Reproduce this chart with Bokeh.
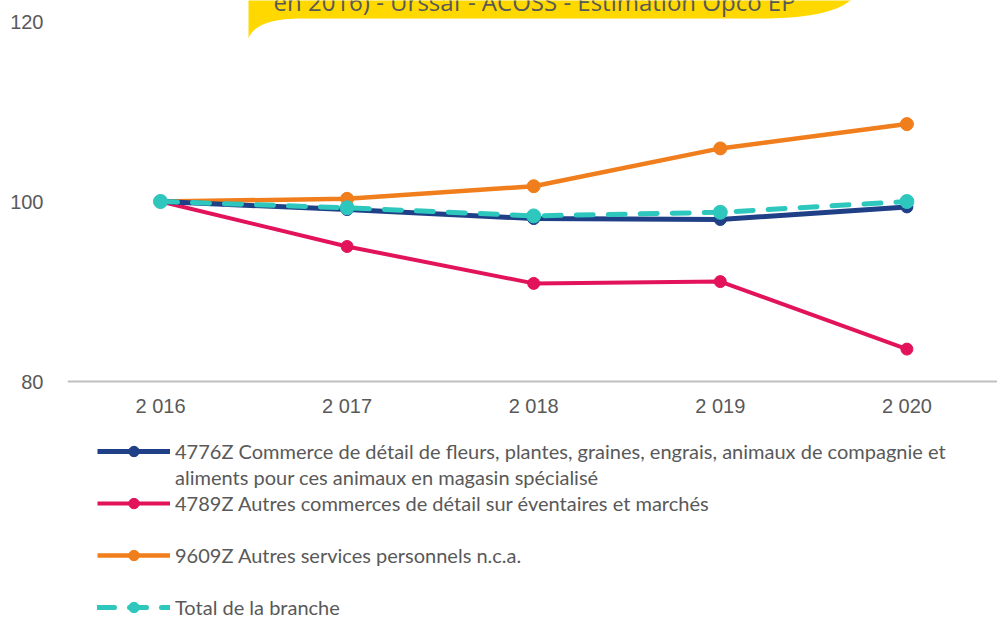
import numpy as np
from bokeh.plotting import figure
from bokeh.models import Range1d, FixedTicker, Legend, LegendItem, ColumnDataSource
from bokeh.core.properties import value
from bokeh.embed import file_html
from bokeh.resources import INLINE

# ---------------- data ----------------
years = [2016, 2017, 2018, 2019, 2020]
year_labels = ["2 016", "2 017", "2 018", "2 019", "2 020"]
y_ticks = [80, 100, 120]
y_axis_base = 80

v_4776Z = [100.0, 99.1, 98.1, 98.0, 99.4]
v_4789Z = [100.0, 95.0, 90.9, 91.1, 83.6]
v_9609Z = [100.0, 100.3, 101.7, 105.9, 108.6]
v_total = [100.0, 99.3, 98.4, 98.8, 100.0]

label_4776Z_1 = "4776Z Commerce de détail de fleurs, plantes, graines, engrais, animaux de compagnie et"
label_4776Z_2 = "aliments pour ces animaux en magasin spécialisé"
label_4789Z = "4789Z Autres commerces de détail sur éventaires et marchés"
label_9609Z = "9609Z Autres services personnels n.c.a."
label_total = "Total de la branche"
callout_text = "en 2016) - Urssaf - ACOSS - Estimation Opco EP"

# ---------------- styles ----------------
C_BLUE = "#1F3F86"
C_RED = "#E2135A"
C_ORANGE = "#F07E1C"
C_CYAN = "#2EC7BE"
C_YELLOW = "#FFD800"
C_TEXT = "#595959"

W, H = 997, 618
FRAME_L = 67                         # frame left (pixels)
X0_PX, X_STEP = 160, 186.6           # pixel of first year, pixels per year
Y100_PX, Y_STEP = 201, 9.0           # pixel of value 100, pixels per unit

x_start = years[0] - (X0_PX - FRAME_L) / X_STEP
x_end = years[0] + (W - X0_PX) / X_STEP
y_end = 100 + Y100_PX / Y_STEP
y_start = 100 - (H - Y100_PX) / Y_STEP

p = figure(width=W, height=H, output_backend="svg", toolbar_location=None,
           x_range=Range1d(x_start, x_end), y_range=Range1d(y_start, y_end),
           min_border_left=FRAME_L, min_border_right=0, min_border_top=0,
           min_border_bottom=0)
p.outline_line_color = None
p.xgrid.visible = False
p.ygrid.visible = False

# helpers: pixel -> data (for the decorative callout only)
def px_x(px):
    return years[0] + (px - X0_PX) / X_STEP

def px_y(py):
    return 100 - (py - Y100_PX) / Y_STEP

# ---------------- yellow callout (decoration) ----------------
def qbez(p0, c, p1, n=20):
    t = np.linspace(0, 1, n)
    xs = (1 - t) ** 2 * p0[0] + 2 * (1 - t) * t * c[0] + t ** 2 * p1[0]
    ys = (1 - t) ** 2 * p0[1] + 2 * (1 - t) * t * c[1] + t ** 2 * p1[1]
    return list(xs), list(ys)

cx, cy = [248, 248, 880, 850], [38, -20, -20, 0]
bx, by = qbez((850, 0), (828, 18), (760, 18))
cx += bx; cy += by
tx, ty = qbez((297, 18), (255, 19), (248, 38))
cx += tx; cy += ty
p.patch([px_x(v) for v in cx], [px_y(v) for v in cy], fill_color=C_YELLOW, line_color=None)
p.text(x=[px_x(273)], y=[px_y(1)], text=[callout_text], text_font=value("Open Sans"),
       text_font_size="24px", text_color=C_TEXT, text_baseline="alphabetic", text_align="left")

# ---------------- series ----------------
src = ColumnDataSource(dict(year=years, a=v_4776Z, b=v_4789Z, c=v_9609Z, t=v_total))

r_b_l = p.line("year", "b", source=src, line_color=C_RED, line_width=4)
r_b_m = p.scatter("year", "b", source=src, size=12, fill_color=C_RED, line_color=C_RED)
r_c_l = p.line("year", "c", source=src, line_color=C_ORANGE, line_width=4.5)
r_c_m = p.scatter("year", "c", source=src, size=13, fill_color=C_ORANGE, line_color=C_ORANGE)
r_a_l = p.line("year", "a", source=src, line_color=C_BLUE, line_width=5)
r_a_m = p.scatter("year", "a", source=src, size=12, fill_color=C_BLUE, line_color=C_BLUE)
r_t_l = p.line("year", "t", source=src, line_color=C_CYAN, line_width=5,
               line_dash="17 15", line_cap="round")
r_t_m = p.scatter("year", "t", source=src, size=14, fill_color=C_CYAN, line_color=C_CYAN)

# ---------------- axes ----------------
p.xaxis.fixed_location = y_axis_base
p.xaxis.ticker = FixedTicker(ticks=years)
p.xaxis.major_label_overrides = {y: l for y, l in zip(years, year_labels)}
p.xaxis.axis_line_color = "#BFBFBF"
p.xaxis.axis_line_width = 2
p.xaxis.major_tick_line_color = None
p.xaxis.minor_tick_line_color = None
p.xaxis.major_label_standoff = 7
p.xaxis.major_label_text_font = "Liberation Sans"
p.xaxis.major_label_text_font_size = "20px"
p.xaxis.major_label_text_color = C_TEXT

p.yaxis.ticker = FixedTicker(ticks=y_ticks)
p.yaxis.axis_line_color = None
p.yaxis.major_tick_line_color = None
p.yaxis.minor_tick_line_color = None
p.yaxis.major_label_standoff = 18
p.yaxis.major_label_text_font = "Liberation Sans"
p.yaxis.major_label_text_font_size = "20px"
p.yaxis.major_label_text_color = C_TEXT

# ---------------- legend ----------------
items = [
    LegendItem(label=label_4776Z_1, renderers=[r_a_l, r_a_m]),
    LegendItem(label=label_4776Z_2, renderers=[]),
    LegendItem(label=label_4789Z, renderers=[r_b_l, r_b_m]),
    LegendItem(label=" ", renderers=[]),
    LegendItem(label=label_9609Z, renderers=[r_c_l, r_c_m]),
    LegendItem(label=" ", renderers=[]),
    LegendItem(label=label_total, renderers=[r_t_l, r_t_m]),
]
legend = Legend(items=items, location=(30, -2), padding=0, margin=0,
                border_line_color=None, background_fill_alpha=0,
                glyph_width=73, glyph_height=26, label_height=26,
                label_standoff=5, spacing=0,
                label_text_font="Lato", label_text_font_size="20px",
                label_text_color=C_TEXT)
p.add_layout(legend, "center")

open("out.html", "w").write(file_html(p, INLINE))
